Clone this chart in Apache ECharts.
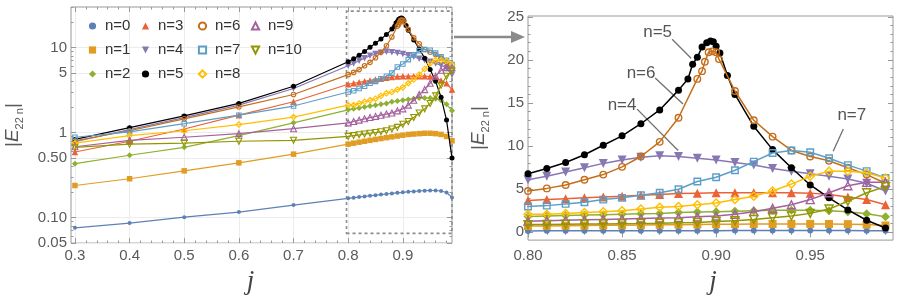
<!DOCTYPE html>
<html><head><meta charset="utf-8">
<script src="https://cdn.jsdelivr.net/npm/echarts@6/dist/echarts.min.js"></script>
<style>html,body{margin:0;padding:0;background:#fff}#c{width:903px;height:300px}</style>
</head><body><div id="c"></div>
<script>
// ---- data ----
const jBase = [0.3,0.4,0.5,0.6,0.7,0.80,0.81,0.82,0.83,0.84,0.85,0.86,0.87,0.88,0.89,0.90,0.91,0.92,0.93,0.94,0.95,0.96,0.97,0.98,0.99];
const n0  = [0.0757,0.086,0.101,0.116,0.140, 0.168,0.171,0.174,0.177,0.180,0.183,0.186,0.189,0.192,0.195,0.198,0.201,0.203,0.205,0.207,0.208,0.208,0.205,0.197,0.172];
const n1  = [0.238,0.286,0.354,0.44,0.557, 0.73,0.75,0.77,0.79,0.81,0.83,0.85,0.87,0.89,0.91,0.93,0.95,0.96,0.97,0.98,0.98,0.97,0.95,0.90,0.80];
const n2  = [0.43,0.54,0.67,0.92,1.3, 1.85,1.9,1.95,2.0,2.05,2.1,2.15,2.2,2.3,2.35,2.4,2.45,2.5,2.55,2.55,2.55,2.5,2.4,2.15,1.8];
const n3  = [0.59,0.79,1.1,1.6,2.3, 3.7,3.8,3.9,4.0,4.1,4.2,4.3,4.4,4.5,4.55,4.6,4.6,4.6,4.6,4.6,4.55,4.4,4.1,3.8,3.2];
const n4  = [0.78,1.08,1.5,2.1,3.3, 6.1,6.5,7.0,7.5,8.0,8.4,8.7,8.9,8.8,8.6,8.4,8.1,7.8,7.4,7.1,6.8,6.5,6.2,5.7,4.8];
const n5  = [0.83,1.14,1.57,2.2,3.5, 6.8,7.4,8.1,9.0,10.1,11.2,12.6,14.2,16.5,20.3,21.6,16.0,12.3,9.6,7.5,5.5,4.0,2.6,1.4,0.5];
const n6  = [0.80,1.05,1.45,2.0,2.8, 4.8,5.1,5.5,6.1,6.7,7.6,8.8,10.5,13.3,17.8,20.9,16.4,13.0,11.1,9.5,8.8,8.3,7.5,6.7,5.7];
const n7  = [0.88,1.02,1.27,1.6,2.05, 3.0,3.1,3.3,3.5,3.8,4.0,4.3,4.6,5.0,5.9,6.4,7.2,8.2,9.2,9.5,9.3,8.6,7.8,7.1,6.3];
const n8  = [0.75,0.92,1.05,1.24,1.52, 2.1,2.1,2.2,2.3,2.4,2.5,2.7,2.9,3.0,3.2,3.4,3.8,4.2,4.8,5.6,6.5,7.1,7.1,6.9,6.3];
const n9  = [0.68,0.81,0.88,0.97,1.11, 1.3,1.35,1.4,1.45,1.5,1.55,1.6,1.65,1.7,1.8,1.9,2.1,2.4,2.8,3.2,3.8,4.6,5.4,5.8,5.8];
const n10 = [0.67,0.73,0.75,0.79,0.81, 0.9,0.92,0.94,0.96,0.98,1.0,1.02,1.05,1.1,1.15,1.25,1.35,1.5,1.7,1.9,2.2,2.7,3.6,4.6,5.3];
// extra points computed near the resonance
const n5PeakJ = [0.885,0.8875,0.8925,0.895,0.897,0.8985,0.902,0.906];
const n5PeakV = [17.8,19.5,21.5,22.0,22.2,22.1,20.8,18.2];
const n6PeakJ = [0.8925,0.894,0.896,0.898,0.9015];
const n6PeakV = [18.7,19.8,20.9,21.0,20.1];

const seriesNames = ['n=0','n=1','n=2','n=3','n=4','n=5','n=6','n=7','n=8','n=9','n=10'];
const seriesValues = [n0,n1,n2,n3,n4,n5,n6,n7,n8,n9,n10];

// tick labels
const leftXTicks = [0.3,0.4,0.5,0.6,0.7,0.8,0.9];
const leftYTicks = [0.05,0.1,0.5,1,5,10];
const leftYTickLabels = ['0.05','0.10','0.50','1','5','10'];
const leftYMinor = [0.06,0.07,0.08,0.09,0.2,0.3,0.4,0.6,0.7,0.8,0.9,2,3,4,6,7,8,9,20,30];
const rightXTicks = [0.80,0.85,0.90,0.95];
const rightXTickLabels = ['0.80','0.85','0.90','0.95'];
const rightYTicks = [0,5,10,15,20,25];

// ---- styles ----
const colors = ['#5E81B5','#E19C24','#8FB032','#EB6235','#8778B3','#000000','#C56E1A','#5D9EC7','#FFBF00','#A5609D','#929600'];
const symbols = ['circle','rect','diamond','triangle','triangle','circle','circle','rect','diamond','triangle','triangle'];
const rotations = [0,0,0,0,180,0,0,0,0,0,180];
const hollow = [false,false,false,false,false,false,true,true,true,true,true];
const sizeL = [4,5.5,6,6.5,6.5,5,4.5,4.5,5.5,6,6];
const sizeR = [6,8,9,9,9,7,6.5,6.5,8,8,8];

const leftXMinor = []; for (let k = 15; k <= 49; k++) if (k % 5) leftXMinor.push(k / 50);
const rightXMinor = []; for (let k = 81; k <= 99; k++) if (k % 5) rightXMinor.push(k / 100);
const rightYMinor = []; for (let k = 1; k <= 24; k++) if (k % 5) rightYMinor.push(k);

const FONT = '"Liberation Sans", Arial, sans-serif';
const GRAY = '#999';
const LBL = '#5a5a5a';

function pairs(js, vs) { return js.map((j, i) => [j, vs[i]]); }
function merged(i) {
  let d = pairs(jBase, seriesValues[i]);
  if (i === 5) d = d.concat(pairs(n5PeakJ, n5PeakV));
  if (i === 6) d = d.concat(pairs(n6PeakJ, n6PeakV));
  return d.sort((a, b) => a[0] - b[0]);
}
function lookup(ticks, labels) {
  return v => { for (let k = 0; k < ticks.length; k++) if (Math.abs(v - ticks[k]) < 1e-6 * Math.max(1, Math.abs(ticks[k]))) return labels[k]; return ''; };
}

function axis(kind, o) {
  const a = {
    type: o.type || 'value', gridIndex: o.grid, min: o.min, max: o.max, position: o.pos,
    logBase: 10,
    axisLine: { show: false },
    axisTick: { show: true, inside: true, length: o.len, customValues: o.ticks, lineStyle: { color: GRAY, width: 1 } },
    axisLabel: o.labels ? { show: true, customValues: o.ticks, formatter: o.labels, color: LBL, fontSize: 15, fontFamily: FONT, margin: o.margin } : { show: false },
    splitLine: o.split ? { show: true, lineStyle: { color: '#ececec', width: 1 } } : { show: false },
    minorTick: { show: false }, minorSplitLine: { show: false }
  };
  if (o.type !== 'log') delete a.logBase;
  if (o.name) Object.assign(a, o.name);
  return a;
}

const yName = (gap) => ({
  name: '|{e|E}{s|22 n}|', nameLocation: 'middle', nameGap: gap, nameRotate: 90,
  nameTextStyle: { color: LBL, fontSize: 19, fontFamily: FONT, lineHeight: 24,
    rich: { e: { fontStyle: 'italic', fontSize: 19, color: LBL, fontFamily: FONT, lineHeight: 24 },
            s: { fontSize: 11, color: LBL, fontFamily: FONT, verticalAlign: 'bottom', lineHeight: 12 } } }
});
const xName = (gap, pad) => ({
  name: 'j', nameLocation: 'middle', nameGap: gap,
  nameTextStyle: { color: '#444', fontSize: 27, fontStyle: 'italic', padding: pad, fontFamily: '"Liberation Serif", "DejaVu Serif", serif' }
});

const LX = { min: 0.2928, max: 0.99 }, LY = { min: 0.05, max: 30 };
const RX = { min: 0.8, max: 0.994 }, RY = { min: -0.9, max: 25.1 };

const xAxes = [
  axis('x', { grid: 0, min: LX.min, max: LX.max, pos: 'bottom', ticks: leftXTicks, len: 5, labels: v => String(Math.round(v * 10) / 10), split: true, margin: 5, name: xName(22, [0, 22, 0, 0]) }),
  axis('x', { grid: 0, min: LX.min, max: LX.max, pos: 'bottom', ticks: leftXMinor, len: 2.5 }),
  axis('x', { grid: 0, min: LX.min, max: LX.max, pos: 'top', ticks: leftXTicks, len: 5 }),
  axis('x', { grid: 0, min: LX.min, max: LX.max, pos: 'top', ticks: leftXMinor, len: 2.5 }),
  axis('x', { grid: 1, min: RX.min, max: RX.max, pos: 'bottom', ticks: rightXTicks, len: 5, labels: lookup(rightXTicks, rightXTickLabels), margin: 8, name: xName(26, [0, 0, 0, 5]) }),
  axis('x', { grid: 1, min: RX.min, max: RX.max, pos: 'bottom', ticks: rightXMinor, len: 2.5 }),
  axis('x', { grid: 1, min: RX.min, max: RX.max, pos: 'top', ticks: rightXTicks, len: 5 }),
  axis('x', { grid: 1, min: RX.min, max: RX.max, pos: 'top', ticks: rightXMinor, len: 2.5 })
];
const yAxes = [
  axis('y', { grid: 0, type: 'log', min: LY.min, max: LY.max, pos: 'left', ticks: leftYTicks, len: 5, labels: lookup(leftYTicks, leftYTickLabels), split: true, margin: 4, name: yName(46) }),
  axis('y', { grid: 0, type: 'log', min: LY.min, max: LY.max, pos: 'left', ticks: leftYMinor, len: 2.5 }),
  axis('y', { grid: 0, type: 'log', min: LY.min, max: LY.max, pos: 'right', ticks: leftYTicks, len: 5 }),
  axis('y', { grid: 0, type: 'log', min: LY.min, max: LY.max, pos: 'right', ticks: leftYMinor, len: 2.5 }),
  axis('y', { grid: 1, min: RY.min, max: RY.max, pos: 'left', ticks: rightYTicks, len: 5, labels: v => String(Math.round(v)), margin: 4, name: yName(37) }),
  axis('y', { grid: 1, min: RY.min, max: RY.max, pos: 'left', ticks: rightYMinor, len: 2.5 }),
  axis('y', { grid: 1, min: RY.min, max: RY.max, pos: 'right', ticks: rightYTicks, len: 5 }),
  axis('y', { grid: 1, min: RY.min, max: RY.max, pos: 'right', ticks: rightYMinor, len: 2.5 })
];

function mkSeries(i, right) {
  const c = colors[i];
  return {
    type: 'line', name: seriesNames[i],
    xAxisIndex: right ? 4 : 0, yAxisIndex: right ? 4 : 0,
    data: merged(i), clip: true, animation: false,
    symbol: symbols[i], symbolRotate: rotations[i], symbolSize: right ? sizeR[i] : sizeL[i],
    showAllSymbol: true,
    lineStyle: { color: c, width: right ? 1.5 : 1.2 },
    itemStyle: hollow[i] ? { color: 'rgba(255,255,255,0)', borderColor: c, borderWidth: right ? 1.4 : 1.1 } : { color: c, borderWidth: 0 },
    emphasis: { disabled: true }, z: 2 + i
  };
}
const series = [];
for (let i = 0; i < 11; i++) series.push(mkSeries(i, false));
for (let i = 0; i < 11; i++) series.push(mkSeries(i, true));

// dashed zoom box in the left panel
series[0].markArea = { silent: true, itemStyle: { color: 'rgba(0,0,0,0)', borderColor: '#8c8c8c', borderWidth: 1.6, borderType: [3, 3] },
  data: [[{ coord: [0.797, 0.065] }, { coord: [0.99, 26.8] }]] };
// leader lines and labels in the right panel
const leaderStart = [[0.8766,22.4],[0.8676,17.9],[0.858,14.3],[0.9676,12.0]];
const leaderEnd   = [[0.8867,20.2],[0.8824,14.9],[0.8798,9.5],[0.9622,9.4]];
const labelPos    = [[0.8689,23.2],[0.8601,18.5],[0.850,14.7],[0.9721,13.6]];
const labelText   = ['n=5','n=6','n=4','n=7'];
series[11].markLine = { silent: true, symbol: ['none','none'], animation: false,
  lineStyle: { color: '#707070', width: 1.3, type: 'solid' }, label: { show: false },
  data: leaderStart.map((s, k) => [{ coord: s }, { coord: leaderEnd[k] }]) };
series[11].markPoint = { silent: true, symbol: 'circle', symbolSize: 0, animation: false,
  data: labelPos.map((p, k) => ({ coord: p, label: { show: true, formatter: labelText[k], position: 'inside', color: '#555', fontSize: 17, fontFamily: FONT } })) };

const legendCols = [['n=0','n=1','n=2'],['n=3','n=4','n=5'],['n=6','n=7','n=8'],['n=9','n=10']];
const legendLeft = [82, 135, 192, 245];
const legends = legendCols.map((d, k) => ({
  data: d, orient: 'vertical', left: legendLeft[k], top: 13, itemWidth: 9, itemHeight: 9, itemGap: 8,
  lineStyle: { opacity: 0 }, selectedMode: false,
  textStyle: { color: '#333', fontSize: 15, fontFamily: FONT, lineHeight: 16, padding: [0, 0, 0, 3] }
}));

const chart = echarts.init(document.getElementById('c'), null, { renderer: 'canvas' });
chart.setOption({
  animation: false,
  backgroundColor: '#fff',
  grid: [
    { left: 66, top: 7, width: 386, height: 240, show: true, borderColor: GRAY, borderWidth: 1, backgroundColor: 'transparent' },
    { left: 528, top: 16, width: 365, height: 227, show: true, borderColor: GRAY, borderWidth: 1, backgroundColor: 'transparent' }
  ],
  xAxis: xAxes, yAxis: yAxes,
  legend: legends,
  series: series,
  graphic: [
    { type: 'line', shape: { x1: 454, y1: 37, x2: 514, y2: 37 }, style: { stroke: '#8a8a8a', lineWidth: 2.5 } },
    { type: 'polygon', shape: { points: [[511, 31], [525, 37], [511, 43]] }, style: { fill: '#8a8a8a' } }
  ]
});
</script></body></html>
